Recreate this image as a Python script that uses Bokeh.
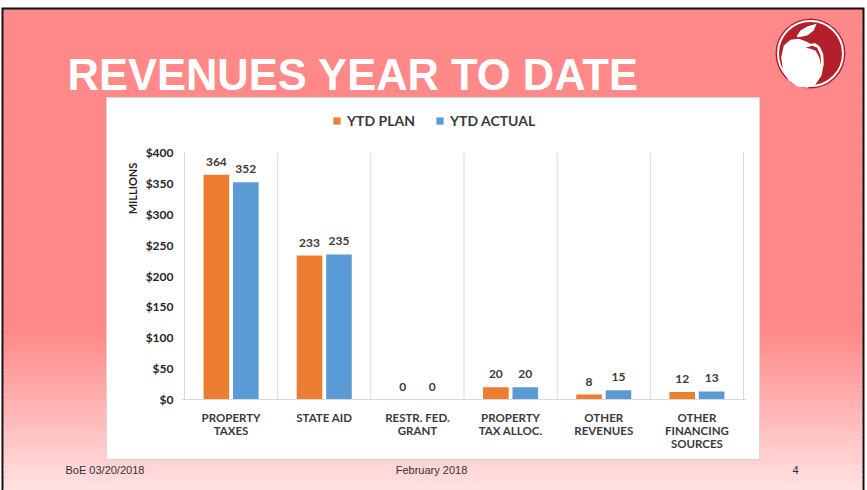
import math
from bokeh.plotting import figure
from bokeh.models import (ColumnDataSource, Range1d, Label, LabelSet, Legend, LegendItem,
                          FixedTicker, PrintfTickFormatter, GridBox)
from bokeh.core.properties import value
from bokeh.embed import file_html
from bokeh.resources import INLINE

# ---------------- data ----------------
categories = ["PROPERTY\nTAXES", "STATE AID", "RESTR. FED.\nGRANT", "PROPERTY\nTAX ALLOC.",
              "OTHER\nREVENUES", "OTHER\nFINANCING\nSOURCES"]
ytd_plan = [364, 233, 0, 20, 8, 12]
ytd_actual = [352, 235, 0, 20, 15, 13]
y_ticks = [0, 50, 100, 150, 200, 250, 300, 350, 400]
series_names = ["YTD PLAN", "YTD ACTUAL"]
y_axis_title = "MILLIONS"
title_text = "REVENUES YEAR TO DATE"
footer_left = "BoE 03/20/2018"
footer_center = "February 2018"
footer_right = "4"

# ---------------- layout ----------------
W, H = 867, 490
PLAN_C = "#ED7D31"
ACT_C = "#5B9BD5"
TXT = "#3a3a3a"

# ================= background slide figure =================
bg = figure(width=W, height=H, x_range=Range1d(0, W), y_range=Range1d(H, 0),
            x_axis_location=None, y_axis_location=None, min_border=0,
            toolbar_location=None, output_backend="svg")
bg.frame_align = False
bg.grid.visible = False
bg.outline_line_color = None
bg.background_fill_color = "white"
bg.border_fill_color = "white"

# slide frame
bg.quad(left=[1], right=[864], top=[7], bottom=[H], fill_color="#111111", line_color=None)

def bg_color(y):
    t = min(max((y - 330) / (490 - 330), 0.0), 1.0)
    c0 = (255, 136, 136)
    c1 = (255, 226, 226)
    c = [round(a + (b - a) * t) for a, b in zip(c0, c1)]
    return "#%02x%02x%02x" % tuple(c)

edges = list(range(9, H, 5)) + [H]
tops, bots, cols = edges[:-1], [e + 0.7 for e in edges[1:]], [bg_color((a + b) / 2) for a, b in zip(edges[:-1], edges[1:])]
bg.quad(left=3, right=862, top=tops, bottom=bots, fill_color=cols, line_color=None)

# white chart box
bg.quad(left=[106], right=[759], top=[97], bottom=[459], fill_color="white", line_color="#D6D6D6", line_width=1)

# logo
cx, cy = 810, 53
bg.circle(x=[cx], y=[cy], radius=35, fill_color="#B3202A", line_color=None)
apple = [(780.7, 56.7), (783.3, 45), (790, 39.3), (798.3, 38.3), (805, 40.7), (810, 43.3), (815, 42.7),
         (819.3, 46), (822.7, 53.3), (823.3, 63.3), (821, 75), (815, 84), (806.7, 87.3), (796.7, 86),
         (788.3, 80), (782.7, 71.7)]
leaf = [(796, 36), (800, 30), (806.7, 26), (816, 23.3), (813.3, 30), (806.7, 35), (798.3, 36.7)]
swoosh = [(805, 47.3), (811.7, 45.3), (816.7, 47.3), (820, 55), (820.7, 65), (818.7, 56.7), (815, 50), (810, 48.3)]
for shape, col in [(apple, "white"), (leaf, "white"), (swoosh, "#B3202A")]:
    bg.patch(x=[q[0] for q in shape], y=[q[1] for q in shape], fill_color=col, line_color=None)
bg.circle(x=[cx], y=[cy], radius=32.5, fill_color=None, line_color="white", line_width=2)

# texts on slide
bg.add_layout(Label(x=67, y=74, text=title_text, text_align="left", text_baseline="alphabetic",
                    text_font="Liberation Sans", text_font_style="bold", text_font_size="43.5px",
                    text_color="white"))
for txt, x, al in [(footer_left, 65, "left"), (footer_center, 431, "center"), (footer_right, 795, "center")]:
    bg.add_layout(Label(x=x, y=469, text=txt, text_align=al, text_baseline="middle",
                        text_font="Liberation Sans", text_font_size="11px", text_color="#333333"))
bg.add_layout(Label(x=132, y=188, text=y_axis_title, angle=math.pi / 2, text_align="center",
                    text_baseline="middle", text_font="Lato", text_font_style="bold",
                    text_font_size="11px", text_color="#262626"))

# ================= chart figure (transparent, on top) =================
n = len(categories)
centers = [i + 0.5 for i in range(n)]
PX_L, PX_R, PX_TOP400, PX_ZERO = 184, 743, 152, 399   # plot-area pixels in the slide
L, R = PX_L - 3, W - PX_R - 3
T, B = 105, H - PX_ZERO
pxu = (PX_R - PX_L) / n
pad = 3 / pxu
y_max = y_ticks[-1] * (PX_ZERO - T) / (PX_ZERO - PX_TOP400)

p = figure(width=W, height=H, x_range=Range1d(-pad, n + pad), y_range=Range1d(0, y_max),
           output_backend="svg", toolbar_location=None,
           min_border_left=L, min_border_right=R, min_border_top=T, min_border_bottom=B)
p.frame_align = False
p.border_fill_alpha = 0
p.background_fill_alpha = 0
p.outline_line_color = None
p.xgrid.visible = False
p.ygrid.visible = False

OFF, BW = 0.158, 0.275
src = ColumnDataSource(dict(xp=[c - OFF for c in centers], xa=[c + OFF for c in centers],
                            plan=ytd_plan, actual=ytd_actual,
                            plan_txt=[str(v) for v in ytd_plan], actual_txt=[str(v) for v in ytd_actual]))

bounds = list(range(n + 1))
p.segment(x0=bounds, y0=0, x1=bounds, y1=y_ticks[-1], line_color="#D9D9D9", line_width=1)

r1 = p.vbar(x="xp", top="plan", width=BW, source=src, fill_color=PLAN_C, line_color=None)
r2 = p.vbar(x="xa", top="actual", width=BW, source=src, fill_color=ACT_C, line_color=None)

for xc, col in [("xp", "plan"), ("xa", "actual")]:
    p.add_layout(LabelSet(x=xc, y=col, text=col + "_txt", source=src,
                          text_align="center", text_baseline="alphabetic", y_offset=9,
                          text_font=value("Lato"), text_font_style="bold", text_font_size="12px",
                          text_color=TXT))

p.yaxis.ticker = FixedTicker(ticks=y_ticks)
p.yaxis.formatter = PrintfTickFormatter(format="$%d")
p.yaxis.axis_line_color = None
p.yaxis.major_tick_line_color = None
p.yaxis.minor_tick_line_color = None
p.yaxis.major_tick_out = 0
p.yaxis.minor_tick_out = 0
p.yaxis.major_label_standoff = 8
p.yaxis.major_label_text_font = "Lato"
p.yaxis.major_label_text_font_style = "bold"
p.yaxis.major_label_text_font_size = "12px"
p.yaxis.major_label_text_color = "#262626"

p.xaxis.ticker = FixedTicker(ticks=centers)
p.xaxis.major_label_overrides = {c: cat for c, cat in zip(centers, categories)}
p.xaxis.axis_line_color = "#D9D9D9"
p.xaxis.major_tick_line_color = None
p.xaxis.minor_tick_line_color = None
p.xaxis.major_tick_out = 0
p.xaxis.minor_tick_out = 0
p.xaxis.major_label_standoff = 11
p.xaxis.major_label_text_font = "Lato"
p.xaxis.major_label_text_font_style = "bold"
p.xaxis.major_label_text_font_size = "11.5px"
p.xaxis.major_label_text_line_height = 1.0
p.xaxis.major_label_text_color = TXT

legend = Legend(items=[LegendItem(label=series_names[0], renderers=[r1]),
                       LegendItem(label=series_names[1], renderers=[r2])],
                orientation="horizontal", location=(332 - L, PX_ZERO - 129), glyph_width=9, glyph_height=9,
                label_standoff=6, spacing=20, padding=0, margin=0, label_height=14,
                label_text_font="Lato", label_text_font_style="bold", label_text_font_size="14px",
                label_text_color=TXT, border_line_color=None, background_fill_alpha=0)
p.add_layout(legend, "center")

layout = GridBox(children=[(bg, 0, 0), (p, 0, 0)])
open("out.html", "w").write(file_html(layout, INLINE))
